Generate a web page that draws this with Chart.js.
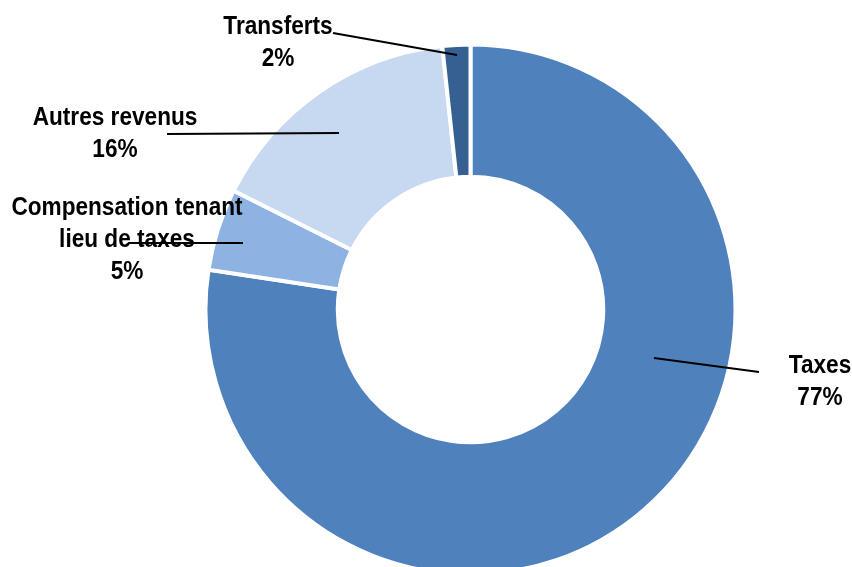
<!DOCTYPE html>
<html>
<head>
<meta charset="utf-8">
<script src="https://cdn.jsdelivr.net/npm/chart.js@4.4.0/dist/chart.umd.min.js"></script>
<style>
  html, body { margin: 0; padding: 0; background: #fff; overflow: hidden; }
  #wrap { position: relative; width: 852px; height: 573px; }
</style>
</head>
<body>
<div id="wrap"><canvas id="chart"></canvas></div>
<script>
// Revenue shares (%)
const categories = ['Taxes', ['Compensation tenant', 'lieu de taxes'], 'Autres revenus', 'Transferts'];
const shares = [77.4, 5.0, 15.9, 1.7];
const colors = ['#4f81bd', '#8db3e2', '#c6d9f1', '#376092'];

// where each label sits and where its leader line goes (x, y in px)
const labelLayout = [
    { x: 820, y: 373, line: [[654, 358], [759, 372]] },
    { x: 127, y: 215, line: [[128, 243], [243, 243]] },
    { x: 115, y: 125, line: [[167, 134], [339, 133]] },
    { x: 278, y: 34, line: [[333, 33], [457, 55]] }
];

const FONT = 'bold 26px "Liberation Sans", Arial, sans-serif';
const NARROW = 0.87; // fake the narrow font by squeezing horizontally
const LINE_H = 32;

// Draws the category names, percentages and leader lines
const labelsPlugin = {
    id: 'sliceLabels',
    afterDraw(chart) {
        const ctx = chart.ctx;
        ctx.save();
        ctx.font = FONT;
        ctx.fillStyle = '#000';
        ctx.textAlign = 'center';
        ctx.textBaseline = 'alphabetic';
        categories.forEach((cat, i) => {
            const pos = labelLayout[i];
            const lines = Array.isArray(cat) ? cat.slice() : [cat];
            lines.push(Math.round(shares[i]) + '%');
            lines.forEach((txt, k) => {
                ctx.save();
                ctx.translate(pos.x, pos.y + k * LINE_H);
                ctx.scale(NARROW, 1);
                ctx.fillText(txt, 0, 0);
                ctx.restore();
            });
        });
        ctx.strokeStyle = '#000';
        ctx.lineWidth = 2;
        labelLayout.forEach(pos => {
            ctx.beginPath();
            ctx.moveTo(pos.line[0][0], pos.line[0][1]);
            ctx.lineTo(pos.line[1][0], pos.line[1][1]);
            ctx.stroke();
        });
        ctx.restore();
    }
};

const chart = new Chart(document.getElementById('chart'), {
    type: 'doughnut',
    data: {
        labels: categories,
        datasets: [{
            data: shares,
            backgroundColor: colors,
            borderColor: '#ffffff',
            borderWidth: 4,
            borderJoinStyle: 'miter'
        }]
    },
    options: {
        responsive: true,
        maintainAspectRatio: false,
        animation: false,
        radius: 265,
        cutout: 131,
        layout: { padding: { left: 207, right: 118, top: 46, bottom: 0 } },
        plugins: {
            legend: { display: false },
            tooltip: { enabled: false }
        }
    },
    plugins: [labelsPlugin]
});
</script>
</body>
</html>
